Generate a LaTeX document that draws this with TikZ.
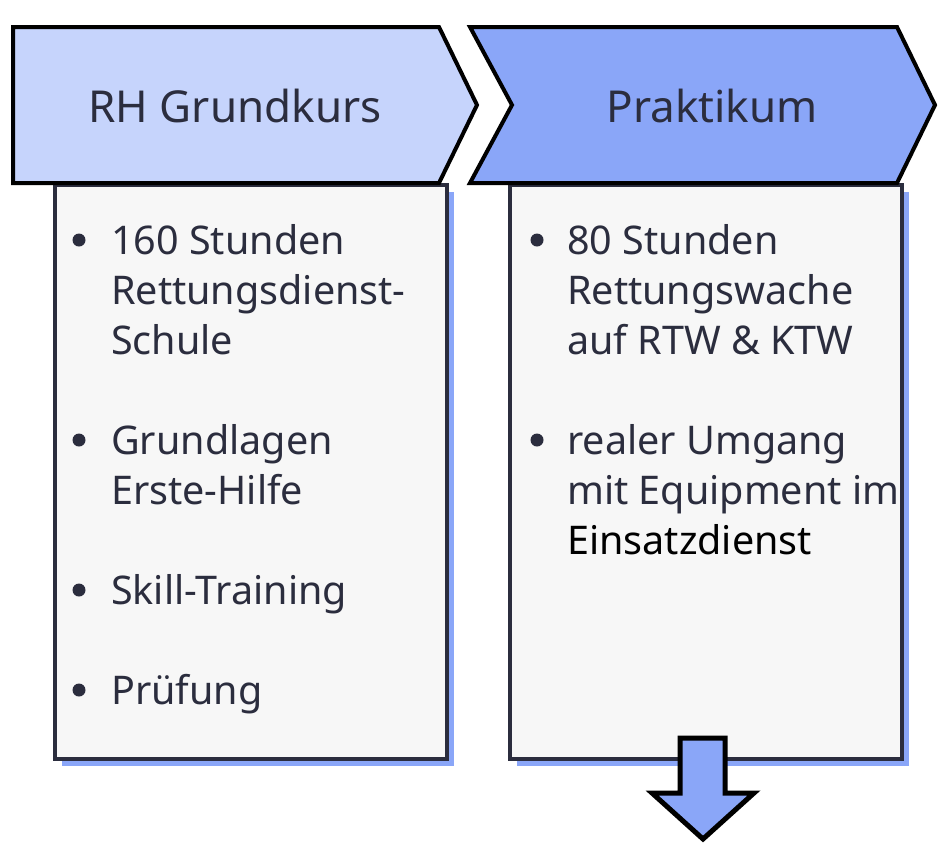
\documentclass[tikz,border=0pt]{standalone}
\usepackage{fontspec}
\setmainfont{Noto Sans}
\definecolor{lightblue}{RGB}{198,212,252}
\definecolor{midblue}{RGB}{138,166,248}
\definecolor{boxfill}{RGB}{247,247,247}
\definecolor{inkdark}{RGB}{43,45,62}
\usetikzlibrary{positioning}

\begin{document}
\begin{tikzpicture}[x=1pt,y=-1pt,
    stage/.style={draw=black,line width=4pt,line join=miter},
    card/.style={draw=inkdark,fill=boxfill,line width=3.5pt,anchor=north west,
          inner sep=0pt,minimum width=392pt,minimum height=574pt},
    cardshadow/.style={fill=midblue,anchor=north west,inner sep=0pt,
          minimum width=392pt,minimum height=574pt},
    heading/.style={font=\fontsize{44}{54}\selectfont,text=inkdark,anchor=base},
    entry/.style={font=\fontsize{39.5}{50}\selectfont,text=inkdark,align=left,
          anchor=north west,inner sep=0pt},
    dot/.style={circle,fill=inkdark,inner sep=0pt,minimum size=13pt}]
  \useasboundingbox (0,0) rectangle (941,863);

  % body cards with offset shadow
  \node[cardshadow] (grundsh) at (62,192) {};
  \node[cardshadow] (praksh) at (517,192) {};
  \node[card] (grundbox) at (53,183) {};
  \node[card] (prakbox) at (508,183) {};

  % chevrons
  \draw[stage,fill=lightblue] (13,27) -- (439,27) -- (477,105) -- (439,183) -- (13,183) -- cycle;
  \draw[stage,fill=midblue] (470,27) -- (897,27) -- (935,105) -- (897,183) -- (470,183) -- (512,105) -- cycle;
  \node[heading] (grund) at (235,122) {RH Grundkurs};
  \node[heading] (prak) at (712,122) {Praktikum};

  % bullet items
  \foreach \n/\y/\t in {g1/254/{160 Stunden\\Rettungsdienst-\\Schule},
                        g2/454/{Grundlagen\\Erste-Hilfe},
                        g3/604/{Skill-Training},
                        g4/704/{Prüfung}}{
    \node[entry] (\n) at (111,\y-35) {\strut\t};
    \node[dot] (\n dot) at (79,\y-14) {};
  }
  \foreach \n/\y/\t in {p1/254/{80 Stunden\\Rettungswache\\auf RTW \& KTW},
                        p2/454/{realer Umgang\\mit Equipment im\\\textcolor{black}{Einsatzdienst}}}{
    \node[entry] (\n) at (567,\y-35) {\strut\t};
    \node[dot] (\n dot) at (537,\y-14) {};
  }

  % arrow to next stage
  \draw[stage,line width=5pt,fill=midblue] (680,738) -- (725,738) -- (725,793) -- (754,793)
       -- (703,839) -- (652,793) -- (680,793) -- cycle;
\end{tikzpicture}
\end{document}
